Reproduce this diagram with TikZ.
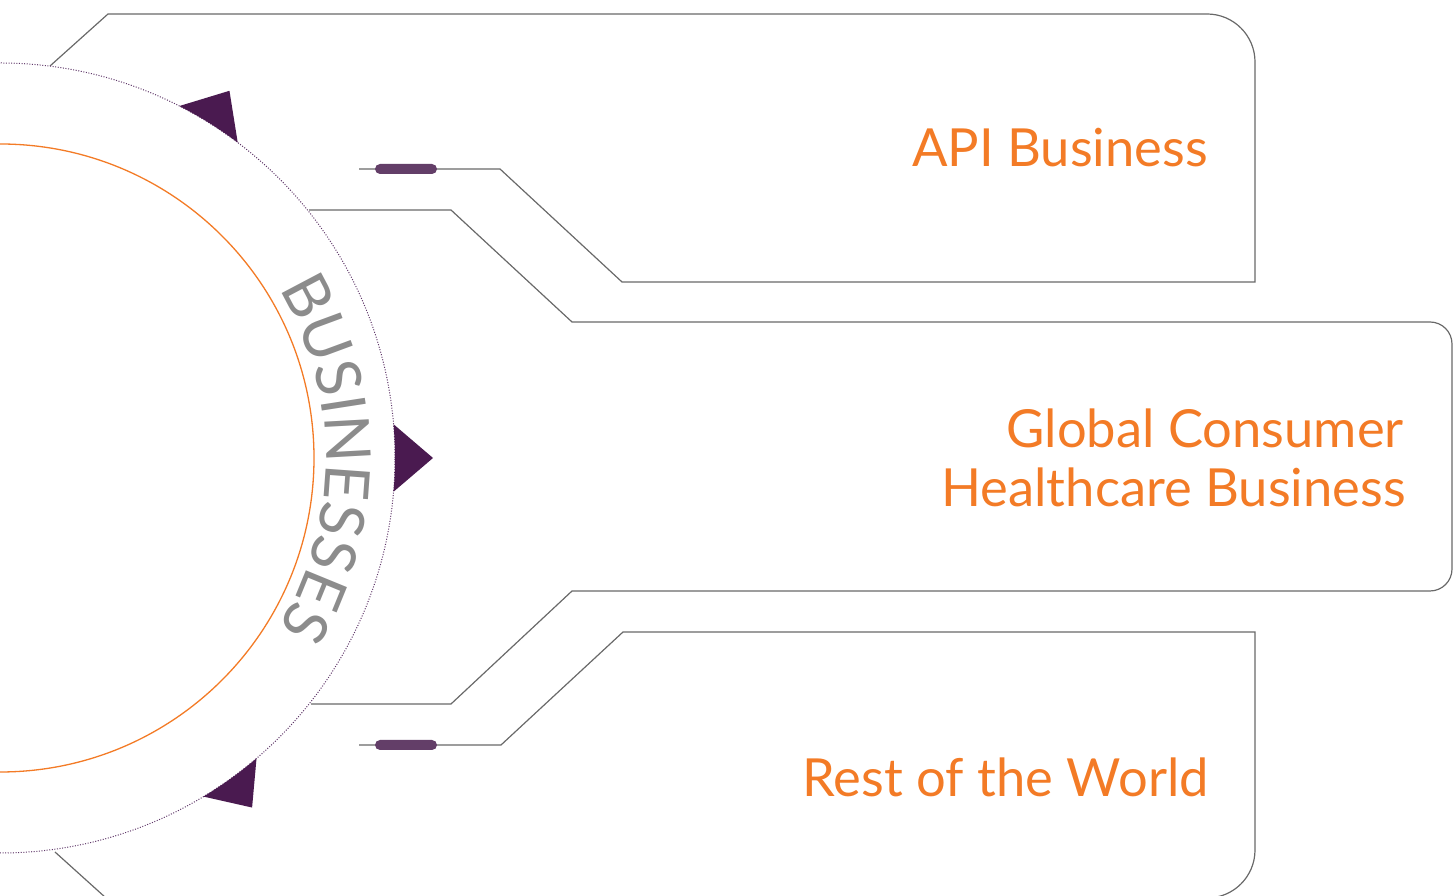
\documentclass[tikz,border=0pt]{standalone}
\usepackage{fontspec}
\newfontfamily\latofont{Lato}
\usetikzlibrary{decorations.text}
\definecolor{linegray}{RGB}{105,105,105}
\definecolor{orangetxt}{RGB}{243,123,38}
\definecolor{darkpurple}{RGB}{74,26,80}
\definecolor{pillpurple}{RGB}{99,62,104}
\definecolor{bizgray}{RGB}{140,140,140}
\definecolor{dotpurple}{RGB}{95,55,105}
\newcommand\bizfont{\latofont\fontsize{62}{62}\selectfont}
\tikzset{
  frame/.style={draw=linegray, line width=1.2pt, line join=miter},
  pill/.style={fill=pillpurple, rounded corners=5pt},
  tri/.style={fill=darkpurple},
  label/.style={text=orangetxt, font=\latofont\fontsize{52.5}{60}\selectfont, inner sep=0pt, anchor=base east},
}
\begin{document}
\begin{tikzpicture}[x=1pt,y=1pt]
\useasboundingbox (0,0) rectangle (1454,896);
\clip (0,0) rectangle (1454,896);
\coordinate (C) at (0,438);
% frames
\draw[frame] (50,830) -- (108,882) -- (1207,882) arc[start angle=90,end angle=0,radius=48pt] -- (1255,614) -- (622,614) -- (500,727) -- (359,727);
\draw[frame] (309,686) -- (451,686) -- (572,574) -- (1430,574) arc[start angle=90,end angle=0,radius=22pt] -- (1452,327) arc[start angle=0,end angle=-90,radius=22pt] -- (572,305) -- (451,192) -- (311,192);
\draw[frame] (359,151) -- (501,151) -- (623,264) -- (1255,264) -- (1255,46) arc[start angle=0,end angle=-90,radius=48pt] -- (106,-2) -- (55,44);
% pills
\fill[pill] (375,722) rectangle (437,732);
\fill[pill] (375,146) rectangle (437,156);
% circles
\draw[orangetxt, line width=1.3pt] (C) circle[radius=314pt];
\draw[dotpurple, line width=1pt, dash pattern=on 1pt off 1.6pt] (C) circle[radius=395pt];
% triangles
\fill[tri] ([shift={(-4.9:395pt)}]C) arc[start angle=-4.9,end angle=4.9,radius=395pt] -- ([shift={(0:433pt)}]C) -- cycle;
\fill[tri] ([shift={(53:395pt)}]C) arc[start angle=53,end angle=63,radius=395pt] -- ([shift={(58:433pt)}]C) -- cycle;
\fill[tri] ([shift={(-59:395pt)}]C) arc[start angle=-59,end angle=-49.5,radius=395pt] -- ([shift={(-54.2:431pt)}]C) -- cycle;
% curved title
\path[decorate, decoration={text along path, text align=center, text color=bizgray, text={|\bizfont|BUSINESSES}}] ([shift={(33:326pt)}]C) arc[start angle=33,end angle=-33,radius=326pt];
% labels
\node[label] (api) at (1208,729) {API Business};
\node[label] (gc1) at (1404,448) {Global Consumer};
\node[label] (gc2) at (1406,389) {Healthcare Business};
\node[label] (row) at (1209,99) {Rest of the World};
\end{tikzpicture}
\end{document}
